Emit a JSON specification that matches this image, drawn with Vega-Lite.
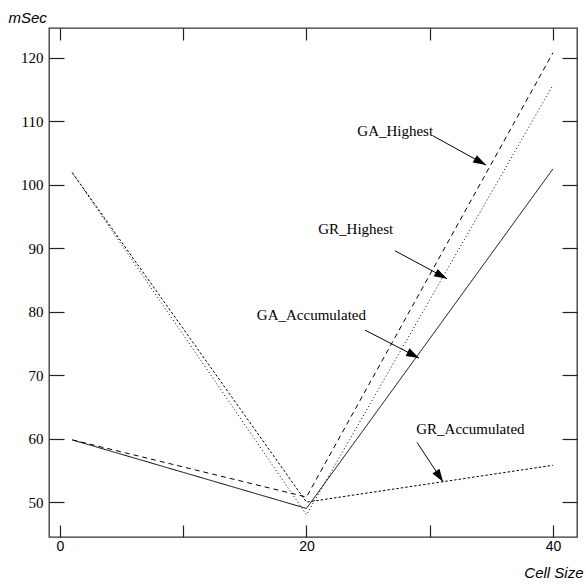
{
  "$schema": "https://vega.github.io/schema/vega-lite/v6.json",
  "width": 528,
  "height": 509,
  "autosize": {"type": "none"},
  "padding": {"left": 49, "top": 28, "right": 9, "bottom": 48},
  "background": "white",
  "config": {
    "view": {"stroke": "#333333", "strokeWidth": 1.3},
    "axis": {"grid": false, "domain": false, "tickColor": "#222222", "tickWidth": 1.2, "labelColor": "black", "titleColor": "black"}
  },
  "datasets": {
    "timings": [
      {"series": "GA_Accumulated", "cell": 1, "msec": 59.8},
      {"series": "GA_Accumulated", "cell": 20, "msec": 49.0},
      {"series": "GA_Accumulated", "cell": 40, "msec": 102.5},
      {"series": "GA_Highest", "cell": 1, "msec": 59.8},
      {"series": "GA_Highest", "cell": 20, "msec": 50.8},
      {"series": "GA_Highest", "cell": 40, "msec": 120.8},
      {"series": "GR_Highest", "cell": 1, "msec": 101.9},
      {"series": "GR_Highest", "cell": 20, "msec": 48.0},
      {"series": "GR_Highest", "cell": 40, "msec": 115.7},
      {"series": "GR_Accumulated", "cell": 1, "msec": 101.9},
      {"series": "GR_Accumulated", "cell": 20, "msec": 50.0},
      {"series": "GR_Accumulated", "cell": 40, "msec": 55.8}
    ],
    "notes": [
      {"label": "GA_Highest", "lx": 27.2, "ly": 108.5, "ax": 30.27, "ay": 107.7, "tx": 34.57, "ty": 103.1},
      {"label": "GR_Highest", "lx": 24.0, "ly": 93.0, "ax": 27.18, "ay": 89.6, "tx": 31.4, "ty": 85.2},
      {"label": "GA_Accumulated", "lx": 20.4, "ly": 79.5, "ax": 24.75, "ay": 77.1, "tx": 29.13, "ty": 72.7},
      {"label": "GR_Accumulated", "lx": 33.3, "ly": 61.5, "ax": 28.97, "ay": 59.4, "tx": 31.08, "ty": 53.2}
    ]
  },
  "resolve": {"axis": {"x": "independent", "y": "independent"}},
  "layer": [
    {
      "data": {"name": "timings"},
      "mark": {"type": "line", "color": "black", "strokeWidth": 1},
      "encoding": {
        "x": {
          "field": "cell", "type": "quantitative",
          "scale": {"domain": [-0.89, 41.95], "nice": false, "zero": false},
          "axis": {
            "orient": "bottom", "values": [0, 10, 20, 30, 40], "offset": -12, "tickSize": 12,
            "labelPadding": 2, "labelExpr": "datum.value % 20 === 0 ? datum.label : ''",
            "labelFont": "Liberation Sans", "labelFontSize": 14,
            "title": "Cell Size", "titleFont": "Liberation Sans", "titleFontStyle": "italic", "titleFontWeight": "normal",
            "titleFontSize": 15, "titleX": 534, "titleY": 47, "titleAlign": "right", "titleBaseline": "middle"
          }
        },
        "y": {
          "field": "msec", "type": "quantitative",
          "scale": {"domain": [44.5, 124.7], "nice": false, "zero": false},
          "axis": {
            "orient": "left", "values": [50, 60, 70, 80, 90, 100, 110, 120], "offset": -15, "tickSize": 15,
            "labelPadding": 6, "labelFont": "Liberation Serif", "labelFontSize": 15,
            "title": "mSec", "titleFont": "Liberation Sans", "titleFontStyle": "italic", "titleFontWeight": "normal",
            "titleFontSize": 15, "titleAngle": 0, "titleX": -56, "titleY": -11, "titleAlign": "left", "titleBaseline": "middle"
          }
        },
        "detail": {"field": "series"},
        "strokeDash": {
          "field": "series", "type": "nominal",
          "scale": {
            "domain": ["GA_Accumulated", "GA_Highest", "GR_Highest", "GR_Accumulated"],
            "range": [[1, 0], [5, 4], [1, 2.5], [2.5, 2]]
          },
          "legend": null
        }
      }
    },
    {
      "data": {"name": "notes"},
      "mark": {"type": "rule", "color": "black", "strokeWidth": 1},
      "encoding": {
        "x": {
          "field": "ax", "type": "quantitative",
          "scale": {"domain": [-0.89, 41.95], "nice": false, "zero": false},
          "axis": {"orient": "top", "values": [0, 10, 20, 30, 40], "offset": -12, "tickSize": 12, "labels": false, "title": null}
        },
        "x2": {"field": "tx"},
        "y": {
          "field": "ay", "type": "quantitative",
          "scale": {"domain": [44.5, 124.7], "nice": false, "zero": false},
          "axis": {"orient": "right", "values": [50, 60, 70, 80, 90, 100, 110, 120], "offset": -15, "tickSize": 15, "labels": false, "title": null}
        },
        "y2": {"field": "ty"}
      }
    },
    {
      "data": {"name": "notes"},
      "transform": [
        {"calculate": "90 + atan2(-(datum.ty - datum.ay) * 6.347, (datum.tx - datum.ax) * 12.325) * 180 / PI", "as": "heading"}
      ],
      "mark": {"type": "point", "shape": "M0,0L-0.33,1L0.33,1Z", "filled": true, "color": "black", "opacity": 1, "size": 660},
      "encoding": {
        "x": {"field": "tx", "type": "quantitative", "scale": {"domain": [-0.89, 41.95], "nice": false, "zero": false}, "axis": null},
        "y": {"field": "ty", "type": "quantitative", "scale": {"domain": [44.5, 124.7], "nice": false, "zero": false}, "axis": null},
        "angle": {"field": "heading", "type": "quantitative", "scale": null}
      }
    },
    {
      "data": {"name": "notes"},
      "mark": {"type": "text", "font": "Liberation Serif", "fontSize": 15, "color": "black", "align": "center", "baseline": "middle"},
      "encoding": {
        "x": {"field": "lx", "type": "quantitative", "scale": {"domain": [-0.89, 41.95], "nice": false, "zero": false}, "axis": null},
        "y": {"field": "ly", "type": "quantitative", "scale": {"domain": [44.5, 124.7], "nice": false, "zero": false}, "axis": null},
        "text": {"field": "label"}
      }
    }
  ]
}
